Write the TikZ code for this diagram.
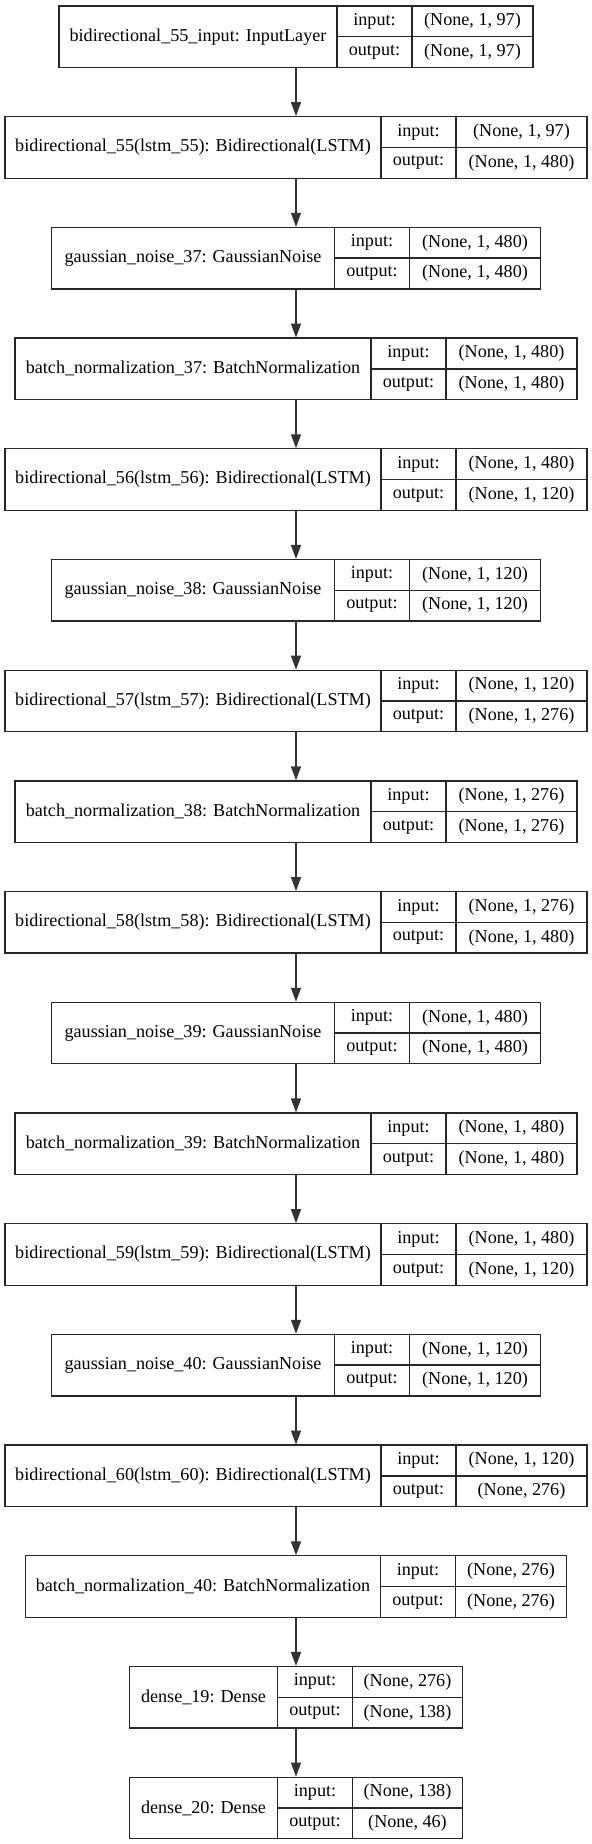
\documentclass[tikz,border=0pt]{standalone}
\usepackage{fontspec}
\setmainfont{Liberation Serif}
\usetikzlibrary{arrows.meta}
\tikzset{
  cellbox/.style={draw=black!85, line width=1pt, inner sep=0pt, outer sep=0pt, rectangle},
  layerbox/.style={cellbox},
  flow/.style={draw=black!80, line width=1pt, -{Triangle[length=10.5pt,width=7.5pt]}, shorten >=0.4pt}
}
% #1 name, #2 index, #3 label width (px), #4 value width (px), #5 label, #6 input, #7 output
\newcommand\layerblock[7]{%
  \pgfmathsetmacro\lbw{#3+75+#4}%
  \pgfmathsetmacro\lby{6+110.7*#2+30.75}%
  \node[layerbox, minimum width=\lbw*0.75pt, minimum height=61.5*0.75pt] (#1) at (296,\lby) {};
  \node[cellbox, anchor=north west, minimum width=#3*0.75pt, minimum height=61.5*0.75pt] (#1-l) at (#1.north west) {#5};
  \node[cellbox, anchor=north west, minimum width=75*0.75pt, minimum height=30.75*0.75pt] (#1-i) at (#1-l.north east) {input:};
  \node[cellbox, anchor=north west, minimum width=75*0.75pt, minimum height=30.75*0.75pt] (#1-o) at (#1-i.south west) {output:};
  \node[cellbox, anchor=north west, minimum width=#4*0.75pt, minimum height=30.75*0.75pt] (#1-iv) at (#1-i.north east) {#6};
  \node[cellbox, anchor=north west, minimum width=#4*0.75pt, minimum height=30.75*0.75pt] (#1-ov) at (#1-iv.south west) {#7};
}
\begin{document}
\begin{tikzpicture}[x=0.75pt, y=-0.75pt, font=\fontsize{13.6}{16}\selectfont]
\useasboundingbox (0,0) rectangle (592,1844);
\layerblock{n1}{0}{278}{121}{bidirectional\_55\_input: InputLayer}{(None, 1, 97)}{(None, 1, 97)}
\layerblock{n2}{1}{376}{131}{bidirectional\_55(lstm\_55): Bidirectional(LSTM)}{(None, 1, 97)}{(None, 1, 480)}
\layerblock{n3}{2}{283}{131}{gaussian\_noise\_37: GaussianNoise}{(None, 1, 480)}{(None, 1, 480)}
\layerblock{n4}{3}{356}{131}{batch\_normalization\_37: BatchNormalization}{(None, 1, 480)}{(None, 1, 480)}
\layerblock{n5}{4}{376}{131}{bidirectional\_56(lstm\_56): Bidirectional(LSTM)}{(None, 1, 480)}{(None, 1, 120)}
\layerblock{n6}{5}{283}{131}{gaussian\_noise\_38: GaussianNoise}{(None, 1, 120)}{(None, 1, 120)}
\layerblock{n7}{6}{376}{131}{bidirectional\_57(lstm\_57): Bidirectional(LSTM)}{(None, 1, 120)}{(None, 1, 276)}
\layerblock{n8}{7}{356}{131}{batch\_normalization\_38: BatchNormalization}{(None, 1, 276)}{(None, 1, 276)}
\layerblock{n9}{8}{376}{131}{bidirectional\_58(lstm\_58): Bidirectional(LSTM)}{(None, 1, 276)}{(None, 1, 480)}
\layerblock{n10}{9}{283}{131}{gaussian\_noise\_39: GaussianNoise}{(None, 1, 480)}{(None, 1, 480)}
\layerblock{n11}{10}{356}{131}{batch\_normalization\_39: BatchNormalization}{(None, 1, 480)}{(None, 1, 480)}
\layerblock{n12}{11}{376}{131}{bidirectional\_59(lstm\_59): Bidirectional(LSTM)}{(None, 1, 480)}{(None, 1, 120)}
\layerblock{n13}{12}{283}{131}{gaussian\_noise\_40: GaussianNoise}{(None, 1, 120)}{(None, 1, 120)}
\layerblock{n14}{13}{376}{131}{bidirectional\_60(lstm\_60): Bidirectional(LSTM)}{(None, 1, 120)}{(None, 276)}
\layerblock{n15}{14}{355}{111}{batch\_normalization\_40: BatchNormalization}{(None, 276)}{(None, 276)}
\layerblock{n16}{15}{148}{110}{dense\_19: Dense}{(None, 276)}{(None, 138)}
\layerblock{n17}{16}{148}{110}{dense\_20: Dense}{(None, 138)}{(None, 46)}
\foreach \a/\b in {n1/n2,n2/n3,n3/n4,n4/n5,n5/n6,n6/n7,n7/n8,n8/n9,n9/n10,n10/n11,n11/n12,n12/n13,n13/n14,n14/n15,n15/n16,n16/n17}
  \draw[flow] (\a.south) -- (\b.north);
\end{tikzpicture}
\end{document}
